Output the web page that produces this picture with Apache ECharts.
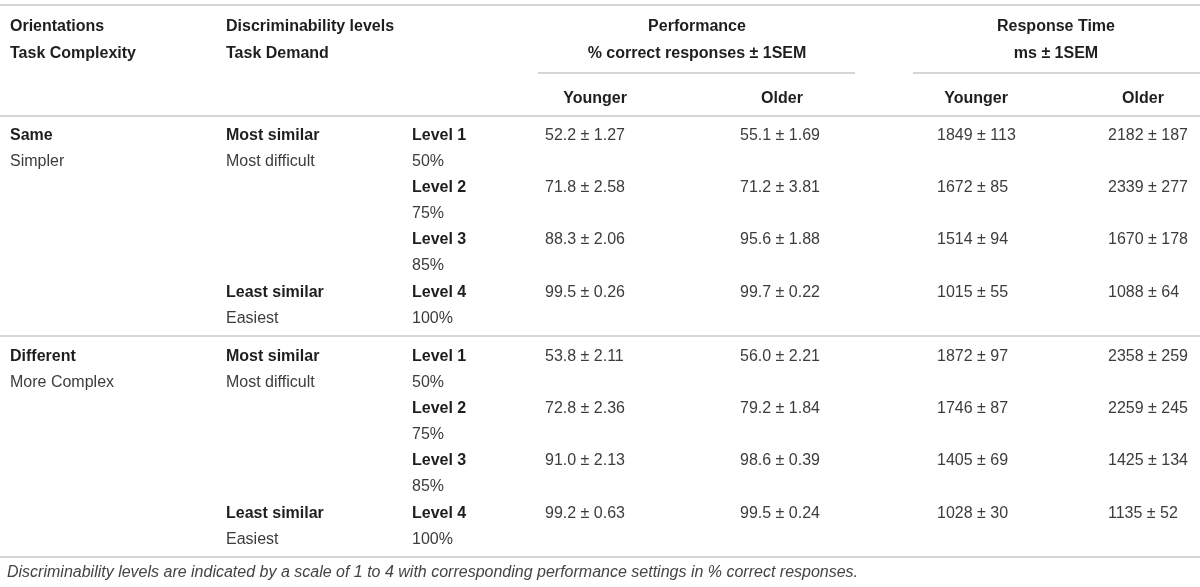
<!DOCTYPE html>
<html>
<head>
<meta charset="utf-8">
<title>Performance and response time</title>
<script src="https://cdn.jsdelivr.net/npm/echarts@6/dist/echarts.min.js"></script>
<style>
  html, body { margin: 0; padding: 0; background: #fff; }
  #chart { width: 1200px; height: 587px; }
</style>
</head>
<body>
<div id="chart"></div>
<script>
// table content
var orientations = ['Same', 'Different'];
var complexity = ['Simpler', 'More Complex'];
var similarity = ['Most similar', 'Least similar'];
var demand = ['Most difficult', 'Easiest'];
var levels = ['Level 1', 'Level 2', 'Level 3', 'Level 4'];
var levelPct = ['50%', '75%', '85%', '100%'];

// rows: Same L1..L4, then Different L1..L4
var perfYoungerMean = [52.2, 71.8, 88.3, 99.5, 53.8, 72.8, 91.0, 99.2];
var perfYoungerSem = [1.27, 2.58, 2.06, 0.26, 2.11, 2.36, 2.13, 0.63];
var perfOlderMean = [55.1, 71.2, 95.6, 99.7, 56.0, 79.2, 98.6, 99.5];
var perfOlderSem = [1.69, 3.81, 1.88, 0.22, 2.21, 1.84, 0.39, 0.24];
var rtYoungerMean = [1849, 1672, 1514, 1015, 1872, 1746, 1405, 1028];
var rtYoungerSem = [113, 85, 94, 55, 97, 87, 69, 30];
var rtOlderMean = [2182, 2339, 1670, 1088, 2358, 2259, 1425, 1135];
var rtOlderSem = [187, 277, 178, 64, 259, 245, 134, 52];

var headTop = ['Orientations', 'Discriminability levels', 'Performance', 'Response Time'];
var headSub = ['Task Complexity', 'Task Demand', '% correct responses \u00b1 1SEM', 'ms \u00b1 1SEM'];
var groupLabels = ['Younger', 'Older', 'Younger', 'Older'];
var footnote = 'Discriminability levels are indicated by a scale of 1 to 4 with corresponding performance settings in % correct responses.';

// layout (pixels on the hidden value axes)
var colX = [10, 226, 412];
var dataColX = [545, 740, 937, 1108];
var groupCenterX = [595, 782, 976, 1143];
var spanCenterX = [697, 1056];
var headY = [26.5, 53.5, 98.5];
var sectionTop = [135.5, 356.5];
var rowStep = 26.1;

var FONT_B = 'bold 16px "Liberation Sans", Arial, sans-serif';
var FONT_R = '16px "Liberation Sans", Arial, sans-serif';
var FONT_I = 'italic 16px "Liberation Sans", Arial, sans-serif';
var C_B = '#1e1e1e';
var C_R = '#3c3c3c';

var cells = [];
function cell(x, y, text, font, align, color) {
    cells.push({ x: x, y: y, text: text, font: font, align: align || 'left', color: color || C_R });
}

// header
cell(colX[0], headY[0], headTop[0], FONT_B, 'left', C_B);
cell(colX[1], headY[0], headTop[1], FONT_B, 'left', C_B);
cell(spanCenterX[0], headY[0], headTop[2], FONT_B, 'center', C_B);
cell(spanCenterX[1], headY[0], headTop[3], FONT_B, 'center', C_B);
cell(colX[0], headY[1], headSub[0], FONT_B, 'left', C_B);
cell(colX[1], headY[1], headSub[1], FONT_B, 'left', C_B);
cell(spanCenterX[0], headY[1], headSub[2], FONT_B, 'center', C_B);
cell(spanCenterX[1], headY[1], headSub[3], FONT_B, 'center', C_B);
for (var g = 0; g < groupLabels.length; g++) {
    cell(groupCenterX[g], headY[2], groupLabels[g], FONT_B, 'center', C_B);
}

// body
for (var s = 0; s < 2; s++) {
    var y0 = sectionTop[s];
    cell(colX[0], y0, orientations[s], FONT_B, 'left', C_B);
    cell(colX[0], y0 + rowStep, complexity[s], FONT_R);
    cell(colX[1], y0, similarity[0], FONT_B, 'left', C_B);
    cell(colX[1], y0 + rowStep, demand[0], FONT_R);
    cell(colX[1], y0 + 6 * rowStep, similarity[1], FONT_B, 'left', C_B);
    cell(colX[1], y0 + 7 * rowStep, demand[1], FONT_R);
    for (var l = 0; l < 4; l++) {
        var y = y0 + 2 * l * rowStep;
        var r = s * 4 + l;
        cell(colX[2], y, levels[l], FONT_B, 'left', C_B);
        cell(colX[2], y + rowStep, levelPct[l], FONT_R);
        cell(dataColX[0], y, perfYoungerMean[r].toFixed(1) + ' \u00b1 ' + perfYoungerSem[r].toFixed(2), FONT_R);
        cell(dataColX[1], y, perfOlderMean[r].toFixed(1) + ' \u00b1 ' + perfOlderSem[r].toFixed(2), FONT_R);
        cell(dataColX[2], y, rtYoungerMean[r] + ' \u00b1 ' + rtYoungerSem[r], FONT_R);
        cell(dataColX[3], y, rtOlderMean[r] + ' \u00b1 ' + rtOlderSem[r], FONT_R);
    }
}
cell(7, 573, footnote, FONT_I, 'left', '#444');

// horizontal rules [x1, y, x2]
var rules = [[0, 5, 1200], [538, 73, 855], [913, 73, 1200], [0, 116, 1200], [0, 336, 1200], [0, 557, 1200]];

var option = {
    animation: false,
    grid: { left: 0, right: 0, top: 0, bottom: 0 },
    xAxis: { type: 'value', min: 0, max: 1200, show: false },
    yAxis: { type: 'value', min: 0, max: 587, inverse: true, show: false },
    series: [
        {
            type: 'custom',
            silent: true,
            clip: false,
            data: rules,
            renderItem: function (params, api) {
                var p1 = api.coord([api.value(0), api.value(1)]);
                var p2 = api.coord([api.value(2), api.value(1)]);
                return {
                    type: 'line',
                    shape: { x1: p1[0], y1: p1[1], x2: p2[0], y2: p2[1] },
                    style: { stroke: '#d6d6d6', lineWidth: 2 }
                };
            }
        },
        {
            type: 'custom',
            silent: true,
            clip: false,
            data: cells.map(function (c, i) { return [c.x, c.y, i]; }),
            renderItem: function (params, api) {
                var c = cells[api.value(2)];
                var p = api.coord([api.value(0), api.value(1)]);
                return {
                    type: 'text',
                    x: p[0],
                    y: p[1],
                    style: {
                        text: c.text,
                        font: c.font,
                        fill: c.color,
                        align: c.align,
                        verticalAlign: 'middle'
                    }
                };
            }
        }
    ]
};

var myChart = echarts.init(document.getElementById('chart'));
myChart.setOption(option);
</script>
</body>
</html>
